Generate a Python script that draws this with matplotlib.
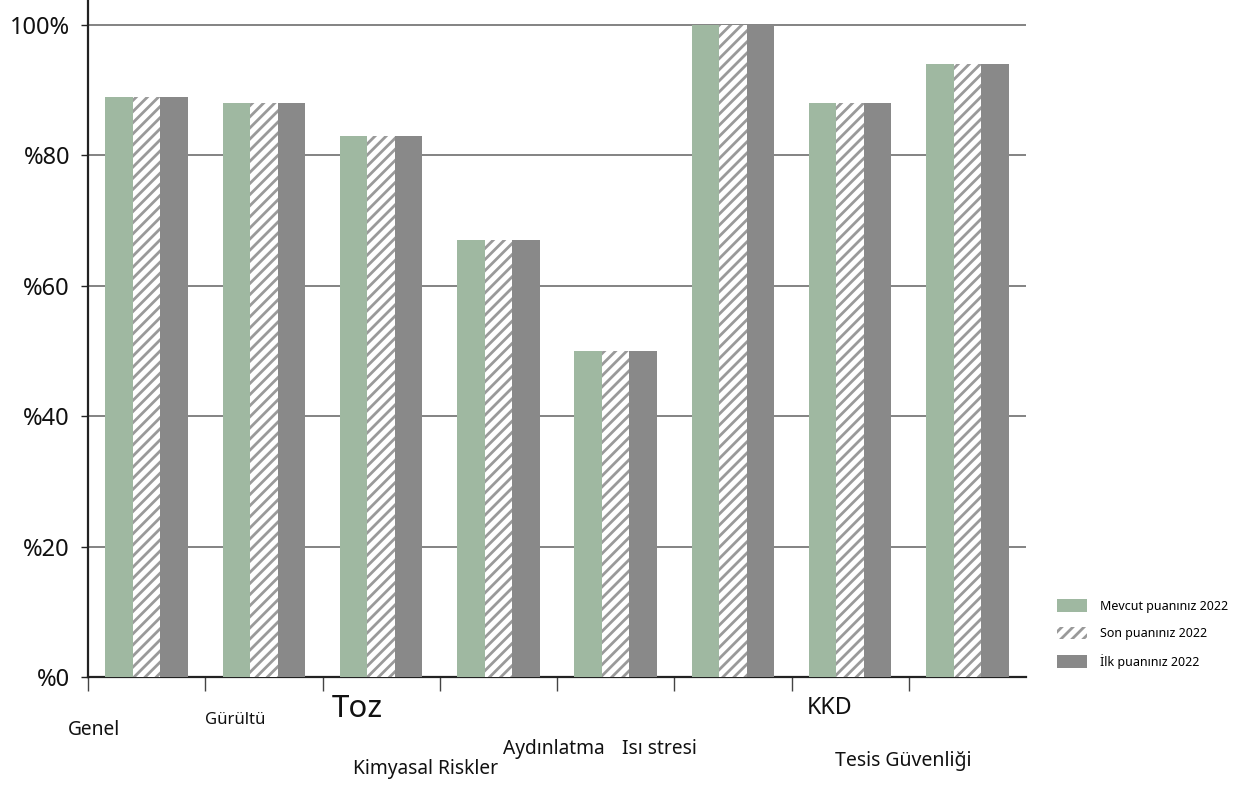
import numpy as np
import matplotlib
matplotlib.use("Agg")
import matplotlib.pyplot as plt
from matplotlib.patches import Patch

plt.rcParams['font.family'] = ['Noto Sans', 'DejaVu Sans']
plt.rcParams['hatch.linewidth'] = 2.0

categories = ["Genel", "Gürültü", "Toz", "Kimyasal Riskler", "Aydınlatma",
              "Isı stresi", "KKD", "Tesis Güvenliği"]
mevcut = [89, 88, 83, 67, 50, 100, 88, 94]
son = [89, 88, 83, 67, 50, 100, 88, 94]
ilk = [89, 88, 83, 67, 50, 100, 88, 94]
series_names = ["Mevcut puanınız 2022", "Son puanınız 2022", "İlk puanınız 2022"]
y_ticks = [0, 20, 40, 60, 80, 100]
y_labels = ["%0", "%20", "%40", "%60", "%80", "100%"]

# label placement (pixel x centre, pixel y centre, font size) - the original is messy
label_pos = [(94, 730, 13.8), (235, 720, 12), (357, 709, 22.5), (426, 769, 13.8),
             (554, 749, 13.8), (659, 749, 13.8), (830, 708, 16.7), (903, 761, 14)]

W, H = 1241, 786
fig = plt.figure(figsize=(W / 100, H / 100), dpi=100)
ax = fig.add_axes([88 / W, (H - 677) / H, (1026 - 88) / W, 677 / H])

green = '#9fb8a1'
gray = '#898989'
hatch_c = '#9a9a9a'

x = np.arange(len(categories)) + 0.5
bw = 0.235
ax.bar(x - bw, mevcut, bw, color=green, linewidth=0, zorder=3)
ax.bar(x, son, bw, color='white', edgecolor=hatch_c, hatch='///', linewidth=0, zorder=3)
ax.bar(x + bw, ilk, bw, color=gray, linewidth=0, zorder=3)

ax.set_xlim(0, len(categories))
ax.set_ylim(0, 103.8)
ax.set_yticks(y_ticks)
ax.set_yticklabels(y_labels, fontsize=17)
ax.yaxis.grid(True, color='#7a7a7a', linewidth=1.3, zorder=0)
ax.set_axisbelow(True)
ax.tick_params(axis='y', length=5, width=1, pad=8, colors='#222222')
ax.tick_params(axis='y', labelcolor='#111111')

ax.set_xticks(np.arange(len(categories)))
ax.set_xticklabels([])
ax.tick_params(axis='x', length=10, width=1, direction='out', colors='#444444')

for s in ['top', 'right']:
    ax.spines[s].set_visible(False)
ax.spines['left'].set_linewidth(1.6)
ax.spines['bottom'].set_linewidth(1.6)
ax.spines['left'].set_color('#222222')
ax.spines['bottom'].set_color('#222222')

for name, (px, py, fs) in zip(categories, label_pos):
    fig.text(px / W, 1 - py / H, name, ha='center', va='center',
             fontsize=fs, color='#111111')

handles = [Patch(facecolor=green, linewidth=0),
           Patch(facecolor='white', edgecolor=hatch_c, hatch='///', linewidth=0),
           Patch(facecolor=gray, linewidth=0)]
fig.legend(handles, series_names, loc='center left',
           bbox_to_anchor=(1048 / W, 1 - 634 / H), frameon=False,
           fontsize=9, handlelength=2.4, handleheight=1.2,
           labelspacing=1.1, handletextpad=1.1, borderpad=0.2)

fig.savefig("out.png", dpi=100)
